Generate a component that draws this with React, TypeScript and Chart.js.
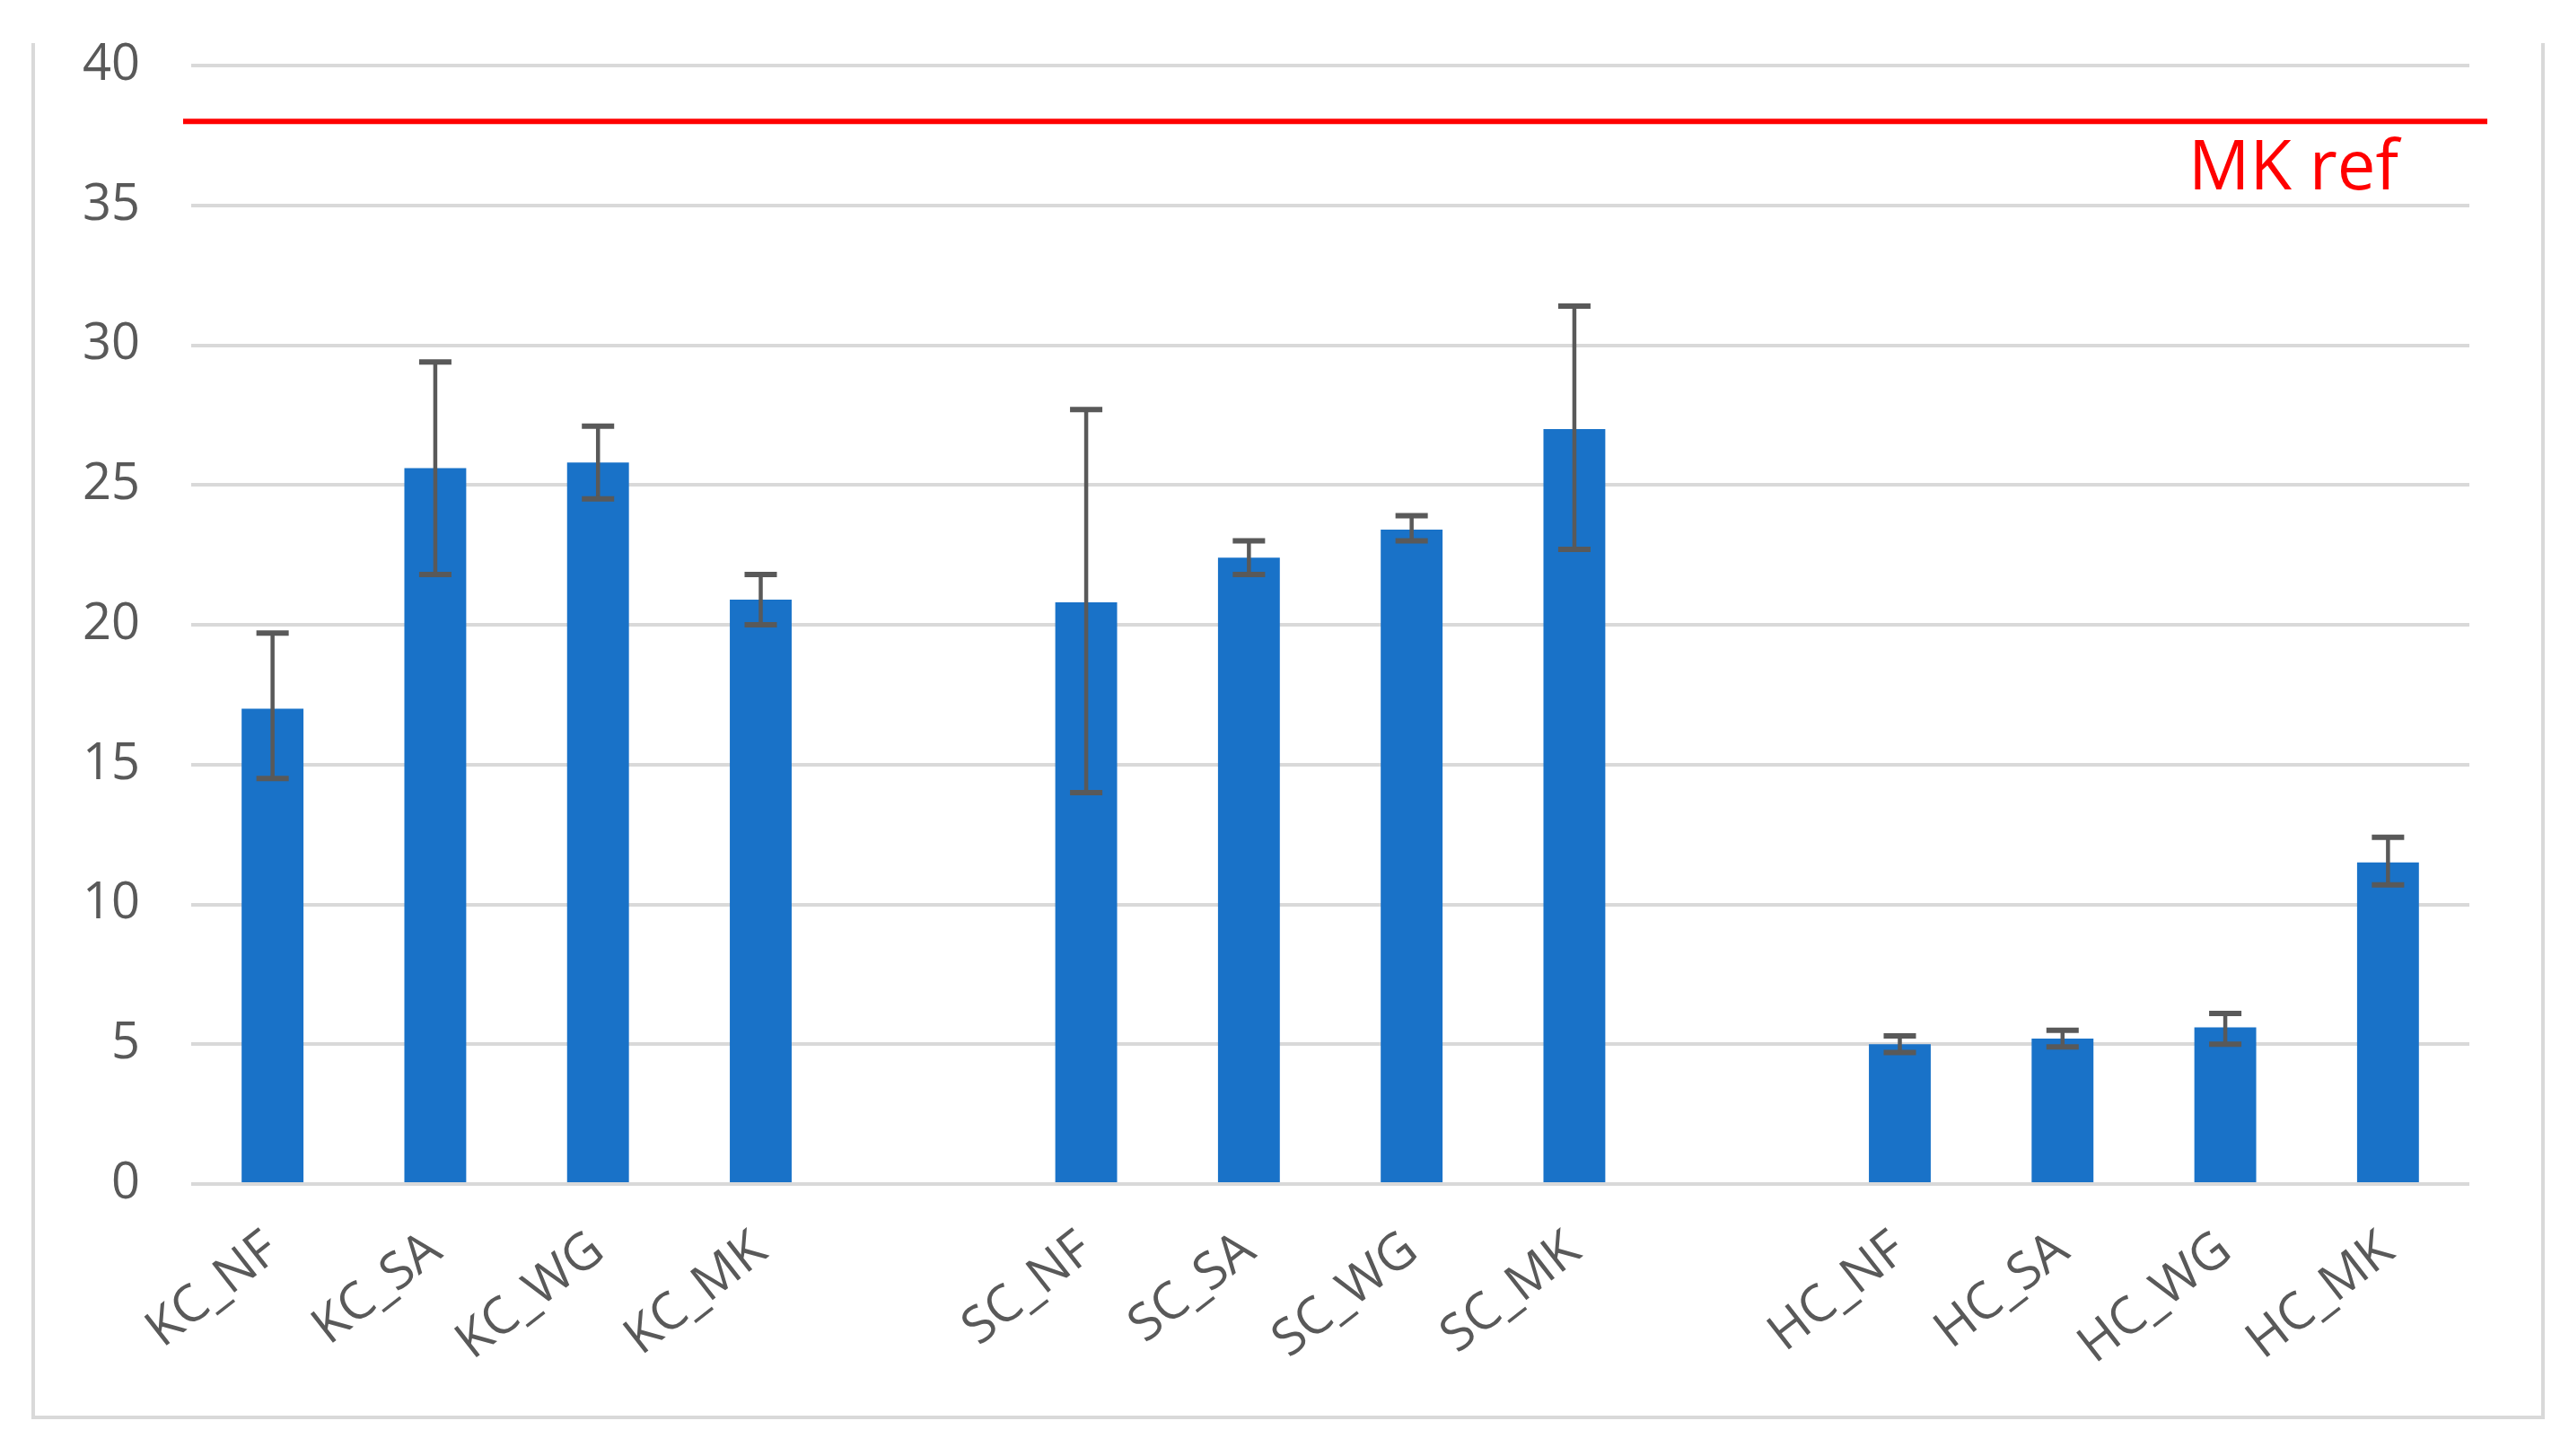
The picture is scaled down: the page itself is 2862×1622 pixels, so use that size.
import React, { useEffect, useRef } from 'react';
import { Chart, registerables } from 'chart.js';

Chart.register(...registerables);

const categories = ['KC_NF', 'KC_SA', 'KC_WG', 'KC_MK', '', 'SC_NF', 'SC_SA', 'SC_WG', 'SC_MK', '', 'HC_NF', 'HC_SA', 'HC_WG', 'HC_MK'];
const means = [17.0, 25.6, 25.8, 20.9, null, 20.8, 22.4, 23.4, 27.0, null, 5.0, 5.2, 5.6, 11.5];
const errUpper = [19.7, 29.4, 27.1, 21.8, null, 27.7, 23.0, 23.9, 31.4, null, 5.3, 5.5, 6.1, 12.4];
const errLower = [14.5, 21.8, 24.5, 20.0, null, 14.0, 21.8, 23.0, 22.7, null, 4.7, 4.9, 5.0, 10.7];
const yMin = 0;
const yMax = 40;
const yStep = 5;
const refValue = 38;
const refLabel = 'MK ref';

const W = 2862;
const H = 1622;
const FONT = "'Open Sans', 'DejaVu Sans', sans-serif";

const framePlugin = {
  id: 'frame',
  beforeDraw(chart: any) {
    const ctx = chart.ctx;
    ctx.save();
    ctx.fillStyle = '#ffffff';
    ctx.fillRect(0, 0, chart.width, chart.height);
    ctx.strokeStyle = '#d9d9d9';
    ctx.lineWidth = 4;
    ctx.beginPath();
    ctx.moveTo(37, 48);
    ctx.lineTo(37, 1579);
    ctx.lineTo(2833, 1579);
    ctx.lineTo(2833, 48);
    ctx.stroke();
    ctx.restore();
  },
};

const errorBarPlugin = {
  id: 'errorBars',
  afterDatasetsDraw(chart: any) {
    const ctx = chart.ctx;
    const meta = chart.getDatasetMeta(0);
    const y = chart.scales.y;
    ctx.save();
    ctx.strokeStyle = '#595959';
    ctx.lineCap = 'butt';
    const cap = 18;
    meta.data.forEach((bar: any, i: number) => {
      const hi = errUpper[i];
      const lo = errLower[i];
      if (hi == null || lo == null) return;
      const x = bar.x;
      const yh = y.getPixelForValue(hi);
      const yl = y.getPixelForValue(lo);
      ctx.lineWidth = 4.5;
      ctx.beginPath();
      ctx.moveTo(x, yh);
      ctx.lineTo(x, yl);
      ctx.stroke();
      ctx.lineWidth = 6;
      ctx.beginPath();
      ctx.moveTo(x - cap, yh);
      ctx.lineTo(x + cap, yh);
      ctx.moveTo(x - cap, yl);
      ctx.lineTo(x + cap, yl);
      ctx.stroke();
    });
    ctx.restore();
  },
};

const refLinePlugin = {
  id: 'refLine',
  afterDatasetsDraw(chart: any) {
    const ctx = chart.ctx;
    const area = chart.chartArea;
    const yPix = chart.scales.y.getPixelForValue(refValue);
    ctx.save();
    ctx.strokeStyle = '#ff0000';
    ctx.lineWidth = 6;
    ctx.beginPath();
    ctx.moveTo(area.left - 9, yPix);
    ctx.lineTo(area.right + 20, yPix);
    ctx.stroke();
    ctx.fillStyle = '#ff0000';
    ctx.font = `76px ${FONT}`;
    ctx.textAlign = 'right';
    ctx.textBaseline = 'alphabetic';
    ctx.fillText(refLabel, area.right - 79, yPix + 76);
    ctx.restore();
  },
};

export default function App() {
  const canvasRef = useRef<HTMLCanvasElement | null>(null);

  useEffect(() => {
    if (!canvasRef.current) return;
    const chart = new Chart(canvasRef.current, {
      type: 'bar',
      data: {
        labels: categories,
        datasets: [
          {
            data: means as any,
            backgroundColor: '#1972C8',
            borderWidth: 0,
            barPercentage: 0.38,
            categoryPercentage: 1,
          },
        ],
      },
      options: {
        responsive: false,
        animation: false,
        devicePixelRatio: 1,
        layout: { padding: { left: 0, top: 73, right: 111, bottom: 0 } },
        plugins: {
          legend: { display: false },
          tooltip: { enabled: false },
          title: { display: false },
        },
        scales: {
          x: {
            grid: { display: false, drawTicks: false },
            border: { display: false },
            ticks: {
              autoSkip: false,
              maxRotation: 38,
              minRotation: 38,
              padding: 40,
              color: '#595959',
              font: { family: FONT, size: 57 },
            },
            afterFit: (s: any) => {
              s.height = 303;
              s.paddingTop = 0;
              s.paddingBottom = 0;
            },
          },
          y: {
            min: yMin,
            max: yMax,
            grid: { color: '#d9d9d9', lineWidth: 4, drawTicks: false },
            border: { display: false },
            ticks: {
              stepSize: yStep,
              padding: 57,
              color: '#595959',
              font: { family: FONT, size: 56 },
            },
            afterFit: (s: any) => {
              s.width = 213;
              s.paddingTop = 0;
              s.paddingBottom = 0;
            },
          },
        },
      },
      plugins: [framePlugin, errorBarPlugin, refLinePlugin],
    });
    return () => chart.destroy();
  }, []);

  return (
    <div style={{ position: 'absolute', left: 0, top: 0, width: W, height: H, background: '#fff' }}>
      <canvas ref={canvasRef} width={W} height={H} style={{ display: 'block' }} />
    </div>
  );
}
